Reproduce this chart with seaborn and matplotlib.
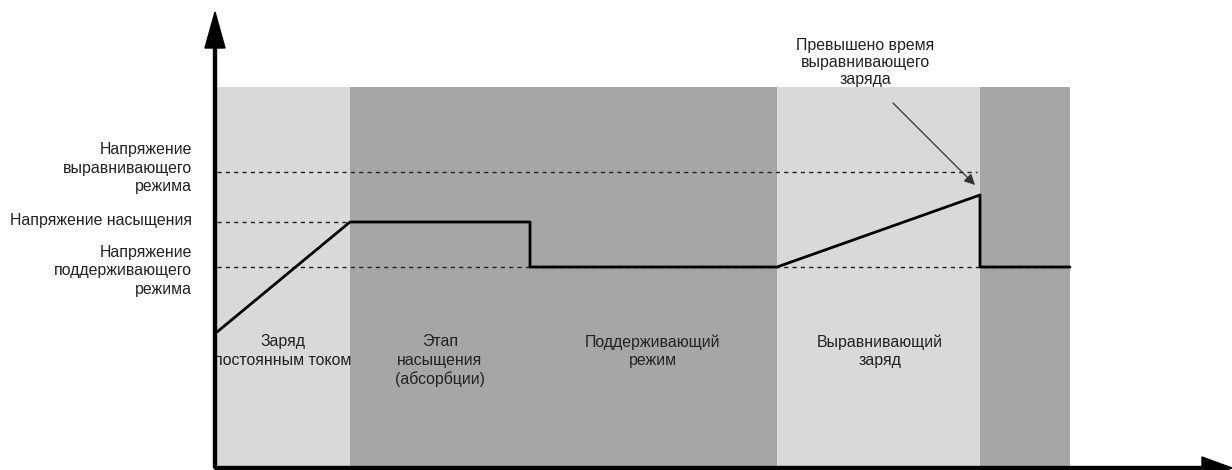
import numpy as np
import pandas as pd
import matplotlib
matplotlib.use("Agg")
import matplotlib.pyplot as plt
import seaborn as sns

sns.set_style("white")
plt.rcParams['font.family'] = ['Liberation Sans', 'DejaVu Sans']

# time axis (arbitrary units) and voltage levels (arbitrary units)
band_edges = [0.2, 13.5, 56.2, 76.5, 85.5]
band_colors = ["#d9d9d9", "#a6a6a6", "#d9d9d9", "#a6a6a6"]
band_top = 38.1

curve_t = [0.2, 13.5, 31.5, 31.5, 56.2, 76.5, 76.5, 85.5]
curve_v = [13.6, 24.6, 24.6, 20.1, 20.1, 27.3, 20.1, 20.1]

level_names = ["Напряжение\nвыравнивающего\nрежима",
               "Напряжение насыщения",
               "Напряжение\nподдерживающего\nрежима"]
level_values = [29.6, 24.6, 20.1]
level_label_y = [30.0, 24.7, 19.7]
level_ends = [76.2, 13.5, 85.5]

phase_labels = ["Заряд\nпостоянным током", "Этап\nнасыщения\n(абсорбции)",
                "Поддерживающий\nрежим", "Выравнивающий\nзаряд"]
phase_centers = [6.8, 22.5, 43.8, 66.5]

note_text = "Превышено время\nвыравнивающего\nзаряда"

fig = plt.figure(figsize=(12.32, 4.70), dpi=100)
ax = fig.add_axes([215 / 1232, 2 / 470, 1017 / 1232, 468 / 470])
ax.set_xlim(0, 101.7)
ax.set_ylim(0, 46.8)
ax.axis("off")

# shaded phases
for i, c in enumerate(band_colors):
    ax.axvspan(band_edges[i], band_edges[i + 1], ymin=0, ymax=band_top / 46.8,
               color=c, lw=0, zorder=0)

# dashed reference levels
for v, end in zip(level_values, level_ends):
    ax.plot([band_edges[0], end], [v, v], color="#222222", lw=1.0,
            linestyle=(0, (3, 3)), zorder=1)

# charging curve
df = pd.DataFrame({"t": curve_t, "v": curve_v})
sns.lineplot(data=df, x="t", y="v", sort=False, estimator=None, color="black",
             lw=2.0, ax=ax, zorder=3)
ax.axis("off")

# axes arrows
ax.arrow(0, 0, 0, 45.6, width=0.3, head_width=2.0, head_length=3.6,
         length_includes_head=True, color="black", clip_on=False, zorder=5)
ax.arrow(0, 0, 101.7, 0, width=0.3, head_width=2.2, head_length=3.0,
         length_includes_head=True, color="black", clip_on=False, zorder=5)

fs = 11.4
tc = "#222222"
for name, y in zip(level_names, level_label_y):
    ax.text(-2.3, y, name, ha="right", va="center", fontsize=fs, color=tc,
            linespacing=1.3)

for lab, x in zip(phase_labels, phase_centers):
    ax.text(x, 13.4, lab, ha="center", va="top", fontsize=fs, color=tc,
            linespacing=1.3)

ax.text(65.0, 43.0, note_text, ha="center", va="top", fontsize=fs, color=tc,
        linespacing=1.15)
ax.annotate("", xy=(76.0, 28.3), xytext=(67.8, 36.5),
            arrowprops=dict(arrowstyle="-|>", color="#333333", lw=0.9,
                            mutation_scale=16, shrinkA=0, shrinkB=0))

fig.savefig("out.png", dpi=100)
